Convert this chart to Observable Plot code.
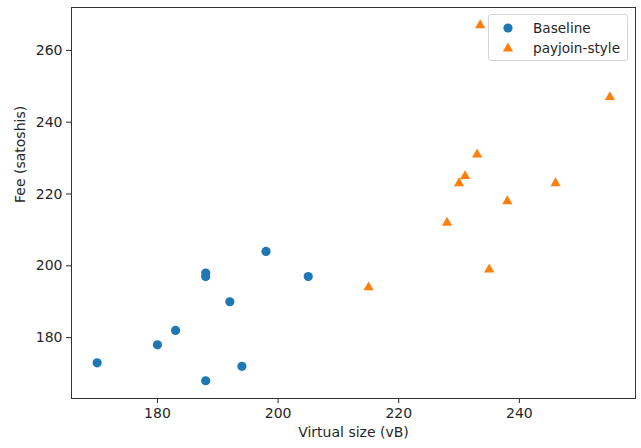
<!DOCTYPE html>
<html><head><meta charset="utf-8">
<script src="https://cdn.jsdelivr.net/npm/d3@7"></script>
<script src="https://cdn.jsdelivr.net/npm/@observablehq/plot@0.6"></script>
<style>
body{margin:0;background:#fff;}
#wrap{position:relative;width:641px;height:448px;}
#legend{position:absolute;left:488px;top:14px;width:138px;height:45px;border:1px solid #d4d4d4;border-radius:3px;background:rgba(255,255,255,0.8);font:13.6px "DejaVu Sans",sans-serif;color:#262626;}
#legend .row{position:absolute;left:0;height:20px;display:flex;align-items:center;}
#legend svg{margin-left:12px;margin-right:18px;}
</style></head><body><div id="wrap"></div>
<script>
const seriesNames = ["Baseline", "payjoin-style"];
const seriesColors = ["#1f77b4", "#ff7f0e"];
const baselineSize = [170, 180, 183, 188, 188, 188, 192, 194, 198, 205];
const baselineFee  = [173, 178, 182, 198, 197, 168, 190, 172, 204, 197];
const payjoinSize  = [233.5, 255, 233, 231, 230, 246, 238, 228, 235, 215];
const payjoinFee   = [267, 247, 231, 225, 223, 223, 218, 212, 199, 194];
const xTicks = [180, 200, 220, 240];
const yTicks = [180, 200, 220, 240, 260];
const xLabel = "Virtual size (vB)";
const yLabel = "Fee (satoshis)";

const base = baselineSize.map((v, i) => ({size: v, fee: baselineFee[i], group: seriesNames[0]}));
const pay = payjoinSize.map((v, i) => ({size: v, fee: payjoinFee[i], group: seriesNames[1]}));

const chart = Plot.plot({
  width: 641, height: 448,
  marginLeft: 71, marginRight: 6, marginTop: 7, marginBottom: 50,
  style: {fontFamily: "DejaVu Sans, sans-serif", fontSize: "14px", color: "#262626", background: "#fff"},
  x: {domain: [165.75, 259.25]},
  y: {domain: [163.05, 271.95]},
  color: {domain: seriesNames, range: seriesColors},
  marks: [
    Plot.axisX({ticks: xTicks, tickSize: 5, tickPadding: 5, label: null}),
    Plot.axisY({ticks: yTicks, tickSize: 5, tickPadding: 4, label: null}),
    Plot.frame({stroke: "#333", strokeWidth: 1}),
    Plot.dot(base, {x: "size", y: "fee", fill: "group", symbol: "circle", r: 4.6}),
    Plot.dot(pay, {x: "size", y: "fee", fill: "group", symbol: "triangle", r: 3.8}),
    Plot.text([xLabel], {frameAnchor: "bottom", dy: 38, text: d => d, fontSize: 14, fill: "#262626"}),
    Plot.text([yLabel], {frameAnchor: "left", dx: -51, rotate: -90, text: d => d, fontSize: 14, fill: "#262626"})
  ]
});
const wrap = document.getElementById("wrap");
wrap.appendChild(chart);

const legend = document.createElement("div");
legend.id = "legend";
const shapes = ["circle", "triangle"];
seriesNames.forEach((name, i) => {
  const row = document.createElement("div");
  row.className = "row";
  row.style.top = (3 + i * 20) + "px";
  const sym = shapes[i] === "circle"
    ? `<circle cx="7" cy="7" r="4.6" fill="${seriesColors[i]}"/>`
    : `<path d="${d3.symbol(d3.symbolTriangle, Math.PI*3.8*3.8)()}" transform="translate(7,7.5)" fill="${seriesColors[i]}"/>`;
  row.innerHTML = `<svg width="14" height="14">${sym}</svg><span>${name}</span>`;
  legend.appendChild(row);
});
wrap.appendChild(legend);
</script>
</body></html>
